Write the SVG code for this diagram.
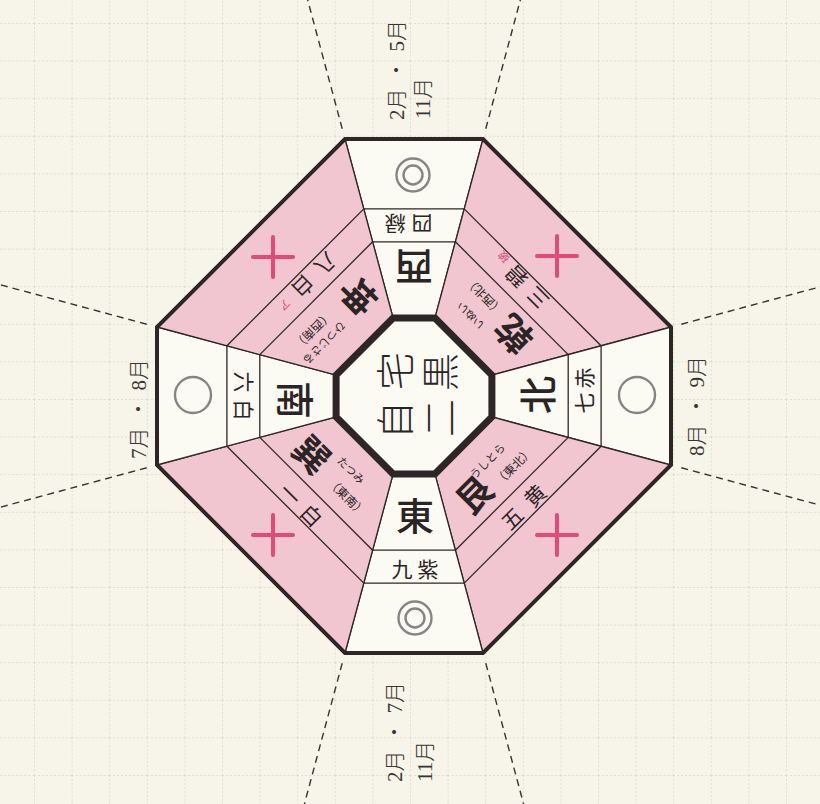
<svg xmlns="http://www.w3.org/2000/svg" width="820" height="804" viewBox="0 0 820 804">
<defs>
<pattern id="grid" x="34" y="23" width="37.6" height="37.6" patternUnits="userSpaceOnUse">
<path d="M0 0.5H37.6M0.5 0V37.6" stroke="#e0ddd1" stroke-width="1" stroke-dasharray="2 2" fill="none"/>
</pattern>
</defs>
<style>
.bg{fill:#f7f5e9}
.white{fill:#fbfaf3;stroke:#2e2626;stroke-width:1.3}
.pink{fill:#f1c6d0;stroke:#2e2626;stroke-width:1.3}
.band{stroke:#2e2626;stroke-width:1.3;fill:none}
.outer{fill:none;stroke:#2e2626;stroke-width:4;stroke-linejoin:miter}
.inner{fill:#fbfaf3;stroke:#2e2626;stroke-width:7;stroke-linejoin:miter}
.dash{stroke:#333;stroke-width:1.4;stroke-dasharray:7 5;fill:none}
text{font-family:'Noto Sans CJK JP','Noto Sans CJK SC',sans-serif;fill:#2a2424;text-anchor:middle;dominant-baseline:central}
.dir{font-size:38px;font-weight:500}
.big{font-size:36px;font-weight:600}
.star{font-size:21px}
.kana{font-size:11px}
.par{font-size:12px}
.ctr{font-size:38px;font-weight:300}
.mark{font-size:11px;fill:#e04a7c}
.month{font-family:'Liberation Serif','Noto Sans CJK JP',serif;font-size:21px;font-weight:300;fill:#3a3434;text-anchor:start}
.circ{fill:none;stroke:#858585;stroke-width:2.4}
.plus{stroke:#e04a7c;stroke-width:4;stroke-linecap:round}
</style>
<rect class="bg" x="0" y="0" width="820" height="804"/>
<rect x="0" y="0" width="820" height="804" fill="url(#grid)"/>

<g id="connectors">
<line class="dash" x1="342.2" y1="128.7" x2="303.6" y2="-15.2"/>
<line class="dash" x1="485.8" y1="128.7" x2="524.4" y2="-15.2"/>
<line class="dash" x1="681.3" y1="324.2" x2="838" y2="282"/>
<line class="dash" x1="681.3" y1="467.8" x2="838" y2="510"/>
<line class="dash" x1="485.8" y1="663.3" x2="527.9" y2="820"/>
<line class="dash" x1="342.2" y1="663.3" x2="300.1" y2="820"/>
<line class="dash" x1="146.7" y1="467.8" x2="-10" y2="510"/>
<line class="dash" x1="146.7" y1="324.2" x2="-10" y2="282"/>
</g>

<g id="sector-west-top">
<polygon class="white" points="345,139 483,139 434.9,318.1 393.1,318.1"/>
<line class="band" x1="363.8" y1="208.9" x2="464.2" y2="208.9"/>
<line class="band" x1="372.6" y1="241.8" x2="455.4" y2="241.8"/>
<circle class="circ" cx="413" cy="175" r="16.5"/>
<circle class="circ" cx="413" cy="175" r="9.5"/>
<g transform="translate(414 396) rotate(180)">
<text class="dir" x="0" y="127">西</text>
<text class="star" y="171"><tspan x="-8">四</tspan><tspan x="19">緑</tspan></text>
</g>
</g>

<g id="sector-northwest">
<polygon class="pink" points="483,139 671,327 491.9,375.1 434.9,318.1"/>
<line class="band" x1="464.2" y1="208.9" x2="601.1" y2="345.8"/>
<line class="band" x1="455.4" y1="241.8" x2="568.2" y2="354.6"/>
<line class="plus" x1="537" y1="256" x2="577" y2="256"/>
<line class="plus" x1="557" y1="236" x2="557" y2="276"/>
<g transform="translate(414 396) rotate(225)">
<text class="big" x="-27" y="112">乾</text>
<text class="kana" x="17" y="96">いぬい</text>
<text class="par" x="21" y="119">（西北）</text>
<text class="star" y="156"><tspan x="-18">三</tspan><tspan x="12">碧</tspan></text>
<text class="mark" x="35" y="161">破</text>
</g>
</g>

<g id="sector-north-right">
<polygon class="white" points="671,327 671,465 491.9,416.9 491.9,375.1"/>
<line class="band" x1="601.1" y1="345.8" x2="601.1" y2="446.2"/>
<line class="band" x1="568.2" y1="354.6" x2="568.2" y2="437.4"/>
<circle class="circ" cx="637" cy="395" r="18"/>
<g transform="translate(414 396) rotate(-90)">
<text class="dir" x="1" y="121">北</text>
<text class="star" y="169"><tspan x="-7">七</tspan><tspan x="18">赤</tspan></text>
</g>
</g>

<g id="sector-northeast">
<polygon class="pink" points="671,465 483,653 434.9,473.9 491.9,416.9"/>
<line class="band" x1="601.1" y1="446.2" x2="464.2" y2="583.1"/>
<line class="band" x1="568.2" y1="437.4" x2="455.4" y2="550.2"/>
<line class="plus" x1="537" y1="535" x2="577" y2="535"/>
<line class="plus" x1="557" y1="515" x2="557" y2="555"/>
<g transform="translate(414 396) rotate(-45)">
<text class="big" x="-27" y="110">艮</text>
<text class="kana" x="6" y="97">うしとら</text>
<text class="par" x="21" y="119">（東北）</text>
<text class="star" y="155"><tspan x="-17">五</tspan><tspan x="15">黄</tspan></text>
</g>
</g>

<g id="sector-east-bottom">
<polygon class="white" points="483,653 345,653 393.1,473.9 434.9,473.9"/>
<line class="band" x1="464.2" y1="583.1" x2="363.8" y2="583.1"/>
<line class="band" x1="455.4" y1="550.2" x2="372.6" y2="550.2"/>
<circle class="circ" cx="415" cy="618" r="16.5"/>
<circle class="circ" cx="415" cy="618" r="9.5"/>
<g transform="translate(414 396)">
<text class="dir" x="1" y="117">東</text>
<text class="star" y="172"><tspan x="-12">九</tspan><tspan x="14">紫</tspan></text>
</g>
</g>

<g id="sector-southeast">
<polygon class="pink" points="345,653 157,465 336.1,416.9 393.1,473.9"/>
<line class="band" x1="363.8" y1="583.1" x2="226.9" y2="446.2"/>
<line class="band" x1="372.6" y1="550.2" x2="259.8" y2="437.4"/>
<line class="plus" x1="253" y1="535" x2="293" y2="535"/>
<line class="plus" x1="273" y1="515" x2="273" y2="555"/>
<g transform="translate(414 396) rotate(45)">
<text class="big" x="-31" y="111">巽</text>
<text class="kana" x="8" y="96">たつみ</text>
<text class="par" x="24" y="118">（東南）</text>
<text class="star" y="156"><tspan x="-18">一</tspan><tspan x="12">白</tspan></text>
</g>
</g>

<g id="sector-south-left">
<polygon class="white" points="157,465 157,327 336.1,375.1 336.1,416.9"/>
<line class="band" x1="226.9" y1="446.2" x2="226.9" y2="345.8"/>
<line class="band" x1="259.8" y1="437.4" x2="259.8" y2="354.6"/>
<circle class="circ" cx="193" cy="395" r="18"/>
<g transform="translate(414 396) rotate(90)">
<text class="dir" x="4" y="117">南</text>
<text class="star" y="169"><tspan x="-14">六</tspan><tspan x="14">白</tspan></text>
</g>
</g>

<g id="sector-southwest">
<polygon class="pink" points="157,327 345,139 393.1,318.1 336.1,375.1"/>
<line class="band" x1="226.9" y1="345.8" x2="363.8" y2="208.9"/>
<line class="band" x1="259.8" y1="354.6" x2="372.6" y2="241.8"/>
<line class="plus" x1="253" y1="257" x2="293" y2="257"/>
<line class="plus" x1="273" y1="237" x2="273" y2="277"/>
<g transform="translate(414 396) rotate(135)">
<text class="big" x="-31" y="108">坤</text>
<text class="kana" x="26" y="100">ひつじさる</text>
<text class="par" x="25" y="117">（西南）</text>
<text class="star" y="155"><tspan x="-31">八</tspan><tspan x="1">白</tspan></text>
<text class="mark" x="27" y="155">ア</text>
</g>
</g>

<polygon id="outer-frame" class="outer" points="345,139 483,139 671,327 671,465 483,653 345,653 157,465 157,327"/>

<g id="center">
<polygon class="inner" points="393.1,318.1 434.9,318.1 491.9,375.1 491.9,416.9 434.9,473.9 393.1,473.9 336.1,416.9 336.1,375.1"/>
<g transform="translate(414 396) rotate(-90)">
<text class="ctr" y="-22"><tspan x="-24">自</tspan><tspan x="25">宅</tspan></text>
<text class="ctr" y="23"><tspan x="-22">二</tspan><tspan x="24">黒</tspan></text>
</g>
</g>

<g id="months">
<text class="month" transform="translate(397 120) rotate(-90)">2月<tspan dx="8">・</tspan><tspan dx="8">5月</tspan></text>
<text class="month" transform="translate(423 119) rotate(-90)">11月</text>
<text class="month" transform="translate(395 782) rotate(-90)">2月<tspan dx="8">・</tspan><tspan dx="8">7月</tspan></text>
<text class="month" transform="translate(425 782) rotate(-90)">11月</text>
<text class="month" transform="translate(139 459) rotate(-90)">7月<tspan dx="8">・</tspan><tspan dx="8">8月</tspan></text>
<text class="month" transform="translate(697 456) rotate(-90)">8月<tspan dx="8">・</tspan><tspan dx="8">9月</tspan></text>
</g>
</svg>
